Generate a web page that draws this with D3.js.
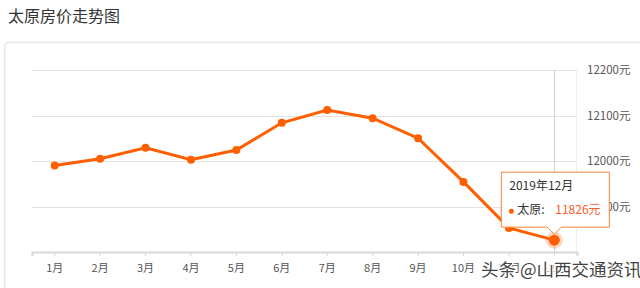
<!DOCTYPE html>
<html>
<head>
<meta charset="utf-8">
<script src="https://cdn.jsdelivr.net/npm/d3@7"></script>
<style>
  body { margin: 0; background: #fff; font-family: "Noto Sans CJK SC", "Noto Sans", sans-serif; }
</style>
</head>
<body>
<div id="chart"></div>
<script>
// data
var months = ["1月", "2月", "3月", "4月", "5月", "6月", "7月", "8月", "9月", "10月", "11月", "12月"];
var prices = [11990, 12005, 12029, 12003, 12024, 12084, 12112, 12094, 12050, 11954, 11853, 11826];
var yTicks = [11800, 11900, 12000, 12100, 12200];

var svgWidth = 640;
var svgHeight = 288;

var margin = { top: 70, right: 63, bottom: 36, left: 32 };
var chartWidth = svgWidth - margin.left - margin.right;
var chartHeight = svgHeight - margin.top - margin.bottom;

var svg = d3.select("#chart")
    .append("svg")
    .attr("width", svgWidth)
    .attr("height", svgHeight);

// title
svg.append("text")
    .attr("x", 8)
    .attr("y", 22)
    .attr("font-size", 16)
    .attr("fill", "#333")
    .text("太原房价走势图");

// card border
svg.append("rect")
    .attr("x", 4.5)
    .attr("y", 42.5)
    .attr("width", 660)
    .attr("height", 300)
    .attr("rx", 4)
    .attr("fill", "none")
    .attr("stroke", "#e6e6e6")
    .attr("stroke-width", 1.5);

var chartGroup = svg.append("g")
    .attr("transform", `translate(${margin.left}, ${margin.top})`);

var xScale = d3.scaleBand()
    .domain(months)
    .range([0, chartWidth]);

var yScale = d3.scaleLinear()
    .domain([11800, 12200])
    .range([chartHeight, 0]);

// grid lines
chartGroup.selectAll(".grid")
    .data(yTicks.slice(1))
    .enter()
    .append("line")
    .attr("x1", 0)
    .attr("x2", chartWidth)
    .attr("y1", d => Math.round(yScale(d)) + 0.5)
    .attr("y2", d => Math.round(yScale(d)) + 0.5)
    .attr("stroke", "#e3e3e3");

// right edge of plot
chartGroup.append("line")
    .attr("x1", chartWidth - 0.5)
    .attr("x2", chartWidth - 0.5)
    .attr("y1", 0)
    .attr("y2", chartHeight)
    .attr("stroke", "#eeeeee");

// y axis labels on the right
chartGroup.selectAll(".ylab")
    .data(yTicks.slice(1))
    .enter()
    .append("text")
    .attr("x", chartWidth + 10)
    .attr("y", d => yScale(d) + 4)
    .attr("font-size", 11.5)
    .attr("fill", "#555")
    .text(d => d + "元");

// bottom axis
var bottomAxis = d3.axisBottom(xScale).tickSize(4).tickPadding(8);
var xAxis = chartGroup.append("g")
    .attr("transform", "translate(0, " + chartHeight + ")")
    .call(bottomAxis);
xAxis.select(".domain").attr("stroke", "#d8d8d8").attr("stroke-width", 2);
xAxis.selectAll(".tick line").attr("stroke", "#d8d8d8");
xAxis.selectAll(".tick text")
    .attr("font-size", 11)
    .attr("fill", "#555")
    .attr("font-family", "Noto Sans CJK SC, sans-serif");

var cx = d => xScale(d) + xScale.bandwidth() / 2;
var last = months.length - 1;

// crosshair at hovered month
chartGroup.append("line")
    .attr("x1", Math.round(cx(months[last])) + 0.5)
    .attr("x2", Math.round(cx(months[last])) + 0.5)
    .attr("y1", 0)
    .attr("y2", chartHeight)
    .attr("stroke", "#d0d0d0");

// line
var line = d3.line()
    .x((d, i) => cx(months[i]))
    .y(d => yScale(d));

chartGroup.append("path")
    .datum(prices)
    .attr("d", line)
    .attr("fill", "none")
    .attr("stroke", "#ff5f00")
    .attr("stroke-width", 3);

chartGroup.selectAll(".dot")
    .data(prices.slice(0, last))
    .enter()
    .append("circle")
    .attr("cx", (d, i) => cx(months[i]))
    .attr("cy", d => yScale(d))
    .attr("r", 4)
    .attr("fill", "#ff5f00");

// highlighted point
chartGroup.append("circle")
    .attr("cx", cx(months[last]))
    .attr("cy", yScale(prices[last]))
    .attr("r", 8.5)
    .attr("fill", "#ff5f00")
    .attr("opacity", 0.25);
chartGroup.append("circle")
    .attr("cx", cx(months[last]))
    .attr("cy", yScale(prices[last]))
    .attr("r", 5.5)
    .attr("fill", "#ff5f00");

// tooltip
var tx = cx(months[last]);
var ty = yScale(prices[last]);
var tip = chartGroup.append("g")
    .attr("transform", `translate(${tx}, ${ty - 13})`);

var bw = 108, bh = 55, ax = -53;
tip.append("path")
    .attr("d", `M${ax},${-bh} h${bw} v${bh} h${-(bw + ax) + 7} l-7,7 l-7,-7 H${ax} Z`)
    .attr("fill", "rgba(255,255,255,0.95)")
    .attr("stroke", "#f7803a")
    .attr("stroke-width", 1);

tip.append("text")
    .attr("x", ax + 8)
    .attr("y", -bh + 18)
    .attr("font-size", 12)
    .attr("fill", "#333")
    .text("2019年12月");

tip.append("circle")
    .attr("cx", ax + 10)
    .attr("cy", -bh + 39)
    .attr("r", 2.5)
    .attr("fill", "#ff5f00");

tip.append("text")
    .attr("x", ax + 16)
    .attr("y", -bh + 42)
    .attr("font-size", 12)
    .attr("fill", "#333")
    .text("太原:");

tip.append("text")
    .attr("x", ax + 54)
    .attr("y", -bh + 42)
    .attr("font-size", 12)
    .attr("fill", "#ff5a28")
    .text(prices[last] + "元");

// watermark
svg.append("text")
    .attr("x", 481)
    .attr("y", 276)
    .attr("font-size", 17.5)
    .attr("fill", "#444")
    .attr("stroke", "#fff")
    .attr("stroke-width", 2.5)
    .attr("paint-order", "stroke")
    .text("头条 @山西交通资讯");
</script>
</body>
</html>
